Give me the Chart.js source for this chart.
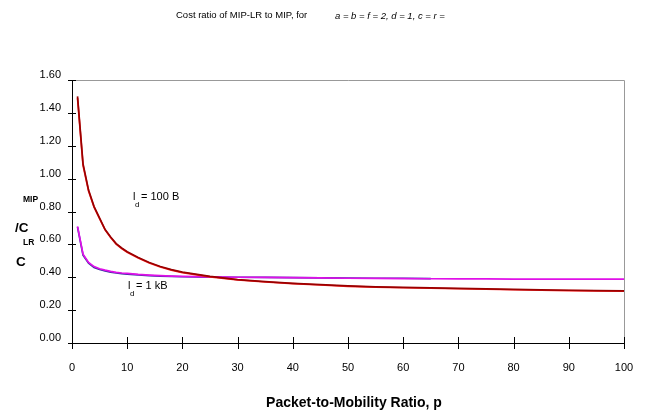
<!DOCTYPE html>
<html>
<head>
<meta charset="utf-8">
<script src="https://cdn.jsdelivr.net/npm/chart.js@4/dist/chart.umd.min.js"></script>
<style>
  html, body { margin: 0; padding: 0; background: #fff; }
  #wrap { width: 650px; height: 416px; position: relative; }
</style>
</head>
<body>
<div id="wrap"><canvas id="chart"></canvas></div>
<script>
// valeurs
const ratios = [1, 2, 3, 4, 5, 6, 7, 8, 9, 10, 12, 14, 16, 18, 20, 25, 30, 35, 40, 45, 50, 55, 60, 65, 70, 75, 80, 85, 90, 95, 100];
const cost100B = [1.50, 1.09, 0.93, 0.83, 0.76, 0.69, 0.645, 0.605, 0.578, 0.555, 0.52, 0.49, 0.465, 0.446, 0.431, 0.405, 0.386, 0.373, 0.363, 0.355, 0.347, 0.342, 0.338, 0.335, 0.332, 0.329, 0.326, 0.323, 0.321, 0.319, 0.317];
const cost100Bb = [1.49, 1.08, 0.925, 0.826, 0.757, 0.688, 0.642, 0.602, 0.575, 0.552, 0.517, 0.487, 0.462, 0.443, 0.428, 0.402, 0.384, 0.371, 0.361, 0.353, 0.345, 0.340, 0.336, 0.333, 0.330, 0.327, 0.324, 0.321, 0.319, 0.317, 0.315];
const cost1kB = [0.71, 0.54, 0.49, 0.465, 0.452, 0.443, 0.436, 0.430, 0.426, 0.423, 0.417, 0.413, 0.410, 0.407, 0.405, 0.402, 0.400, 0.399, 0.398, 0.396, 0.394, 0.393, 0.392, 0.391, 0.390, 0.390, 0.389, 0.389, 0.389, 0.389, 0.389];
const cost1kBb = [0.705, 0.535, 0.486, 0.46, 0.447, 0.438, 0.431, 0.426, 0.422, 0.419, 0.414, 0.410, 0.407, 0.405, 0.403, 0.401, 0.400, 0.399, 0.398, 0.396, 0.395, 0.394, 0.394, 0.392];
const yTicks = [0, 0.2, 0.4, 0.6, 0.8, 1.0, 1.2, 1.4, 1.6];
const xTicks = [0, 10, 20, 30, 40, 50, 60, 70, 80, 90, 100];

function toPoints(values) {
  return values.map((v, i) => ({ x: ratios[i], y: v }));
}

// cadre gris, graduations croisées et textes fixes
const decorPlugin = {
  id: "decor",
  beforeDatasetsDraw(chart) {
    const { ctx, chartArea: a } = chart;
    ctx.save();
    ctx.strokeStyle = "#999";
    ctx.lineWidth = 1;
    ctx.beginPath();
    ctx.moveTo(a.left, a.top + 0.5);
    ctx.lineTo(a.right + 0.5, a.top + 0.5);
    ctx.lineTo(a.right + 0.5, a.bottom);
    ctx.stroke();
    ctx.restore();
  },
  afterDraw(chart) {
    const { ctx, chartArea: a } = chart;
    const xs = chart.scales.x, ys = chart.scales.y;
    ctx.save();
    ctx.strokeStyle = "#000";
    ctx.lineWidth = 1;
    ctx.beginPath();
    xTicks.forEach(v => {
      const px = Math.round(xs.getPixelForValue(v)) + 0.5;
      ctx.moveTo(px, a.bottom - 6);
      ctx.lineTo(px, a.bottom + 6);
    });
    yTicks.forEach(v => {
      const py = Math.round(ys.getPixelForValue(v)) + 0.5;
      ctx.moveTo(a.left - 4, py);
      ctx.lineTo(a.left + 4, py);
    });
    ctx.stroke();

    ctx.fillStyle = "#000";
    ctx.textBaseline = "middle";
    ctx.textAlign = "left";
    // titre
    ctx.font = "9.5px 'Liberation Sans', Arial, sans-serif";
    ctx.fillText("Cost ratio of MIP-LR to MIP, for", 176, 15);
    ctx.font = "italic 9.5px 'Liberation Sans', Arial, sans-serif";
    ctx.fillText("a = b = f = 2, d = 1, c = r =", 335, 16);

    // étiquettes des courbes
    ctx.font = "11px 'Liberation Sans', Arial, sans-serif";
    ctx.fillText("l", 133, 197);
    ctx.fillText("= 100 B", 141, 197);
    ctx.fillText("l", 128, 286);
    ctx.fillText("= 1 kB", 136, 286);
    ctx.font = "8px 'Liberation Sans', Arial, sans-serif";
    ctx.fillText("d", 135, 205);
    ctx.fillText("d", 130, 294);

    // titre de l'axe Y (texte éclaté comme l'original)
    ctx.font = "bold 8.5px 'Liberation Sans', Arial, sans-serif";
    ctx.fillText("MIP", 23, 200);
    ctx.fillText("LR", 23, 243);
    ctx.font = "bold 13.5px 'Liberation Sans', Arial, sans-serif";
    ctx.fillText("/C", 15, 228);
    ctx.fillText("C", 16, 262);

    // titre de l'axe X
    ctx.textAlign = "center";
    ctx.font = "bold 14px 'Liberation Sans', Arial, sans-serif";
    ctx.fillText("Packet-to-Mobility Ratio, p", 354, 403);
    ctx.restore();
  }
};

new Chart(document.getElementById("chart"), {
  type: "line",
  data: {
    datasets: [
      { label: "l_d = 100 B", data: toPoints(cost100B), borderColor: "#990000", borderWidth: 1.7 },
      { label: "l_d = 100 B (b)", data: toPoints(cost100Bb), borderColor: "#ff2020", borderWidth: 1.7 },
      { label: "l_d = 1 kB", data: toPoints(cost1kB), borderColor: "#e010e8", borderWidth: 1.7 },
      { label: "l_d = 1 kB (b)", data: toPoints(cost1kBb), borderColor: "#3030a0", borderWidth: 1.7 }
    ]
  },
  options: {
    responsive: true,
    maintainAspectRatio: false,
    animation: false,
    elements: {
      point: { radius: 0 },
      line: { tension: 0, fill: false }
    },
    layout: { padding: { top: 80, right: 26, left: 0, bottom: 0 } },
    plugins: {
      legend: { display: false },
      tooltip: { enabled: false }
    },
    scales: {
      x: {
        type: "linear",
        min: 0,
        max: 100,
        afterFit: s => { s.height = 73; },
        afterBuildTicks: s => { s.ticks = xTicks.map(v => ({ value: v })); },
        grid: { display: false },
        border: { color: "#000", width: 1 },
        ticks: {
          color: "#000",
          padding: 10,
          maxRotation: 0,
          font: { family: "'Liberation Sans', Arial, sans-serif", size: 11 }
        }
      },
      y: {
        type: "linear",
        min: 0,
        max: 1.6,
        afterFit: s => { s.width = 72; },
        afterBuildTicks: s => { s.ticks = yTicks.map(v => ({ value: v })); },
        grid: { display: false },
        border: { color: "#000", width: 1 },
        ticks: {
          color: "#000",
          padding: 3,
          labelOffset: -5,
          font: { family: "'Liberation Sans', Arial, sans-serif", size: 11 },
          callback: v => v.toFixed(2)
        }
      }
    }
  },
  plugins: [decorPlugin]
});
</script>
</body>
</html>
